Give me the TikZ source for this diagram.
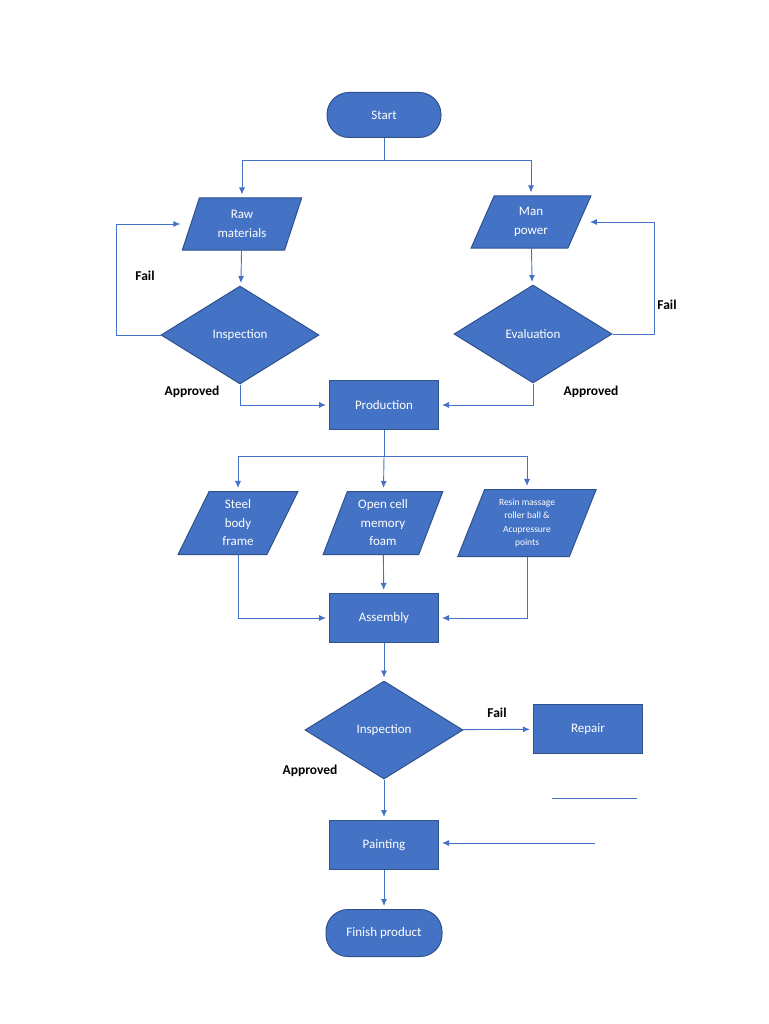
\documentclass[tikz,border=0pt]{standalone}
\usepackage{fontspec}
\setmainfont{Carlito}
\usepackage{tikz}
\usetikzlibrary{shapes.geometric,arrows.meta,calc,positioning}
\definecolor{fblue}{HTML}{4472C4}
\definecolor{dblue}{HTML}{2F528F}
\tikzstyle{box}=[rectangle, draw=dblue, fill=fblue, line width=1, text=white, minimum width=109pt, minimum height=49pt, inner sep=0pt, align=center, font=\fontsize{13}{18.5}\selectfont]
\tikzstyle{term}=[box, rounded corners=22pt, minimum width=114pt, minimum height=45pt]
\tikzstyle{io}=[box, trapezium, trapezium left angle=70, trapezium right angle=110, trapezium stretches=true, minimum width=120pt, minimum height=52pt]
\tikzstyle{dec}=[box, diamond, minimum width=158pt, minimum height=98pt]
\tikzstyle{l1}=[draw=fblue, line width=0.9]
\tikzstyle{arr}=[l1, -{Latex[length=7pt,width=6pt]}, shorten >=3pt]
\tikzstyle{lab}=[text=black, font=\fontsize{13.5}{16}\selectfont\bfseries]

\begin{document}
\begin{tikzpicture}[x=1pt,y=-1pt]
    \useasboundingbox (0,0) rectangle (768,1024);
    \node[term] (start)  at (384,115) {Start};
    \node[io]   (raw)    at (242,224) {Raw\\materials};
    \node[io]   (man)    at (531,222) {Man\\power};
    \node[dec]  (insp)   at (240,335) {Inspection};
    \node[dec]  (eval)   at (533,334) {Evaluation};
    \node[box]  (prod)   at (384,405) {Production};
    \node[io, minimum height=63pt]  (steel) at (238,523) {Steel\\body\\frame};
    \node[io, minimum height=63pt]  (foam)  at (383,523) {Open cell\\memory\\foam};
    \node[io, minimum width=139pt, minimum height=67pt, font=\fontsize{9.5}{13.5}\selectfont] (resin) at (527,523) {Resin massage\\roller ball \&\\Acupressure\\points};
    \node[box]  (asm)    at (384,618) {Assembly};
    \node[dec]  (insp2)  at (384,730) {Inspection};
    \node[box]  (repair) at (588,729) {Repair};
    \node[box]  (paint)  at (384,845) {Painting};
    \node[term, minimum width=116pt, minimum height=47pt] (finish) at (384,933) {Finish product};

    \coordinate (s1) at (384,160);
    \coordinate (s2) at (384,456);
    \coordinate (la) at (552,798);
    \coordinate (lb) at (637,798);
    \coordinate (back) at (595,843);

    \draw[l1] (start) -- (s1);
    \draw[arr] (s1) -| (raw);
    \draw[arr] (s1) -| (man);
    \draw[arr] (raw) -- (insp);
    \draw[arr] (man) -- (eval);
    \draw[arr, shorten >=10pt] (insp.west) -- ++(-44,0) |- (raw.west);
    \draw[arr, shorten >=10pt] (eval.east) -- ++(42,0) |- (man.east);
    \draw[arr] (insp.south) |- (prod.west);
    \draw[arr] (eval.south) |- (prod.east);

    \draw[l1] (prod) -- (s2);
    \draw[arr] (s2) -| (steel);
    \draw[arr] (s2) -- (foam);
    \draw[arr] (s2) -| (resin);
    \draw[arr] (steel.south) |- (asm.west);
    \draw[arr] (foam) -- (asm);
    \draw[arr] (resin.south) |- (asm.east);

    \draw[arr] (asm) -- (insp2);
    \draw[arr] (insp2) -- (repair);
    \draw[arr] (insp2) -- (paint);
    \draw[arr] (paint) -- (finish);
    \draw[l1] (la) -- (lb);
    \draw[arr] (back) -- (paint.east |- back);

    \node[lab] (f1) at (145,276) {Fail};
    \node[lab] (a1) at (192,392) {Approved};
    \node[lab] (f2) at (667,305) {Fail};
    \node[lab] (a2) at (591,392) {Approved};
    \node[lab] (f3) at (497,713) {Fail};
    \node[lab] (a3) at (310,771) {Approved};
\end{tikzpicture}
\end{document}
